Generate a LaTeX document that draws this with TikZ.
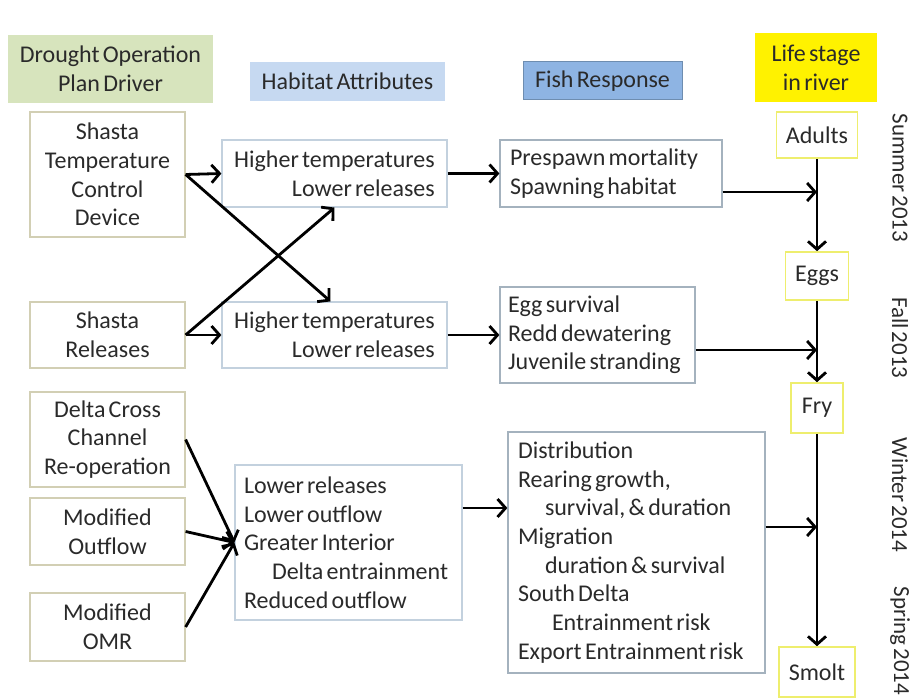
\documentclass[tikz,border=0pt]{standalone}
\usepackage{fontspec}
\setmainfont{Carlito}[WordSpace=0.6]
\usetikzlibrary{arrows.meta,calc}
\definecolor{txt}{HTML}{2A2A2A}
\definecolor{drvfill}{HTML}{D7E4BD}
\definecolor{drvline}{HTML}{D2CFB4}
\definecolor{habfill}{HTML}{C6D9F1}
\definecolor{habline}{HTML}{C3D1DE}
\definecolor{fishfill}{HTML}{8EB4E3}
\definecolor{fishhdrline}{HTML}{6E8DB0}
\definecolor{fishline}{HTML}{A4B2BE}
\definecolor{stageline}{HTML}{EEEE6E}
\hyphenpenalty=10000
\begin{document}
\begin{tikzpicture}[x=1pt,y=-1pt,
  every node/.style={font=\fontsize{24}{28.7}\selectfont, text=txt, inner sep=0pt},
  hdr/.style={align=center},
  drvbox/.style={draw=drvline, line width=1.2pt, align=center, minimum width=155pt},
  habbox/.style={draw=habline, line width=1.2pt},
  fishbox/.style={draw=fishline, line width=1.2pt, align=flush left},
  stagebox/.style={draw=stageline, line width=1.6pt},
  season/.style={rotate=-90, font=\fontsize{23}{27}\selectfont},
  arr/.style={line width=2.8pt, -{Straight Barb[length=8pt,width=18pt]}},
]
\useasboundingbox (0,0) rectangle (911,698);

% headers
\node[hdr, fill=drvfill, minimum width=205pt, minimum height=68pt] (hdrv) at (110.5,69) {Drought Operation\\Plan Driver};
\node[hdr, fill=habfill, minimum width=195pt, minimum height=39pt] (hhab) at (347.5,81.5) {Habitat Attributes};
\node[hdr, fill=fishfill, draw=fishhdrline, line width=1pt, minimum width=159pt, minimum height=38pt] (hfish) at (602.5,81) {Fish Response};
\node[hdr, fill=yellow, minimum width=122pt, minimum height=69pt] (hlife) at (816,67.5) {Life stage\\in river};

% drivers
\node[drvbox, minimum height=125pt] (tcd) at (107.5,174.5) {Shasta\\Temperature\\Control\\Device};
\node[drvbox, minimum height=66pt] (rel) at (107.5,335) {Shasta\\Releases};
\node[drvbox, minimum height=95pt] (dcc) at (107.5,439.5) {Delta Cross\\Channel\\Re-operation};
\node[drvbox, minimum height=67pt] (mout) at (107.5,531.5) {Modified\\Outflow};
\node[drvbox, minimum height=68pt] (omr) at (107.5,627) {Modified\\OMR};

% habitat attributes
\node[habbox, align=right, minimum width=225pt, minimum height=67pt] (hab1) at (334.5,173.5) {Higher temperatures\\Lower releases};
\node[habbox, align=right, minimum width=225pt, minimum height=66pt] (hab2) at (334.5,335) {Higher temperatures\\Lower releases};
\node[habbox, align=flush left, text width=209pt, inner xsep=9pt, minimum height=155pt] (hab3) at (348.5,542.5) {Lower releases\\Lower outflow\\Greater Interior\\\hspace*{28pt}Delta entrainment\\Reduced outflow};

% fish response
\node[fishbox, text width=202pt, inner xsep=10pt, minimum height=67pt] (fr1) at (611,173.5) {Prespawn mortality\\Spawning habitat};
\node[fishbox, text width=179pt, inner xsep=8pt, minimum height=96pt] (fr2) at (597.5,335) {Egg survival\\Redd dewatering\\Juvenile stranding};
\node[fishbox, text width=237pt, inner xsep=10pt, minimum height=241pt] (fr3) at (636.5,552.5) {Distribution\\Rearing growth,\\\hspace*{27pt}survival, \& duration\\Migration\\\hspace*{27pt}duration \& survival\\South Delta\\\hspace*{34pt}Entrainment risk\\Export Entrainment risk};

% life stages
\node[stagebox, minimum width=81pt, minimum height=46pt] (adults) at (817,135) {Adults};
\node[stagebox, minimum width=63pt, minimum height=48pt] (eggs) at (817,276) {Eggs};
\node[stagebox, minimum width=52pt, minimum height=50pt] (fry) at (817,408) {Fry};
\node[stagebox, minimum width=76pt, minimum height=50pt] (smolt) at (817,672) {Smolt};

% seasons
\node[season] (s1) at (900,178) {Summer 2013};
\node[season] (s2) at (900,338) {Fall 2013};
\node[season] (s3) at (900,495) {Winter 2014};
\node[season] (s4) at (900,641) {Spring 2014};

% junctions on the trunk
\coordinate (j1) at (817,192);
\coordinate (j2) at (817,350);
\coordinate (j3) at (817,527);
\coordinate (h3) at (480,508);

% connectors
\draw[arr] (tcd.east) -- (hab1.west);
\draw[arr] (tcd.east) -- ($(hab2.north)+(-4,0)$);
\draw[arr] (rel.east) -- (hab2.west);
\draw[arr] (rel.east) -- (hab1.south);
\draw[arr] (dcc.east) -- (hab3.west);
\draw[arr] (mout.east) -- (hab3.west);
\draw[arr] (omr.east) -- (hab3.west);

\draw[arr] (hab1.east) -- (fr1.west);
\draw[arr] (hab2.east) -- (fr2.west);
\draw[arr] (hab3.east |- h3) -- (fr3.west |- h3);

\draw[arr] (fr1.east |- j1) -- (j1);
\draw[arr] (fr2.east |- j2) -- (j2);
\draw[arr] (fr3.east |- j3) -- (j3);

\draw[arr] (adults.south) -- (eggs.north);
\draw[arr] (eggs.south) -- (fry.north);
\draw[arr] (fry.south) -- (smolt.north);
\end{tikzpicture}
\end{document}
